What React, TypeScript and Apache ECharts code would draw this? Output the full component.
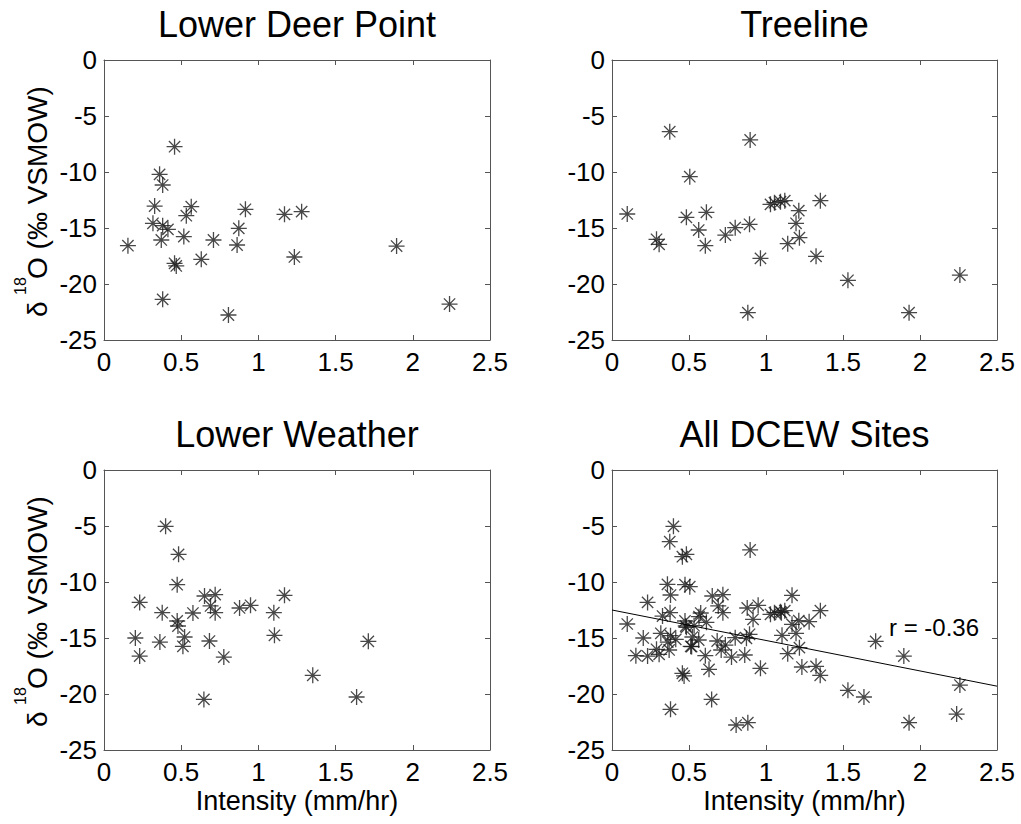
import React, { useEffect, useRef } from "react";
import * as echarts from "echarts";

// ---- Data ----
const panelTitles = ["Lower Deer Point", "Treeline", "Lower Weather", "All DCEW Sites"];

const xTicks = [0, 0.5, 1, 1.5, 2, 2.5];
const yTicks = [-25, -20, -15, -10, -5, 0];

// Lower Deer Point: [intensity mm/hr, d18O permil]
const lowerDeerPoint: [number, number][] = [
  [0.155, -16.58], [0.457, -7.74], [0.36, -10.21], [0.38, -11.16], [0.328, -13.04],
  [0.317, -14.58], [0.38, -14.79], [0.414, -15.12], [0.371, -16.07], [0.565, -13.1],
  [0.533, -13.9], [0.517, -15.77], [0.457, -18.15], [0.468, -18.39], [0.38, -21.37],
  [0.63, -17.8], [0.709, -16.07], [0.806, -22.77], [0.862, -16.52], [0.873, -15.03],
  [0.916, -13.33], [1.169, -13.78], [1.28, -13.54], [1.233, -17.59], [1.895, -16.61],
  [2.238, -21.79],
];

// Treeline
const treeline: [number, number][] = [
  [0.099, -13.75], [0.375, -6.4], [0.897, -7.14], [0.505, -10.42], [0.483, -14.05],
  [0.563, -15.18], [0.613, -13.6], [0.606, -16.58], [0.289, -16.01], [0.306, -16.46],
  [0.736, -15.63], [0.8, -14.97], [0.893, -14.67], [0.964, -17.71], [0.882, -22.56],
  [1.029, -12.89], [1.055, -12.74], [1.094, -12.65], [1.122, -12.56], [1.213, -13.45],
  [1.195, -14.58], [1.217, -15.86], [1.141, -16.4], [1.353, -12.56], [1.325, -17.53],
  [1.532, -19.67], [1.929, -22.56], [2.259, -19.2],
];

// Lower Weather
const lowerWeather: [number, number][] = [
  [0.203, -15.0], [0.231, -11.82], [0.231, -16.61], [0.399, -5.03], [0.483, -7.53],
  [0.474, -10.24], [0.377, -12.74], [0.362, -15.36], [0.474, -13.48], [0.479, -13.93],
  [0.522, -14.91], [0.511, -15.74], [0.576, -12.77], [0.651, -11.25], [0.69, -12.14],
  [0.72, -11.13], [0.72, -12.74], [0.683, -15.27], [0.776, -16.7], [0.647, -20.48],
  [0.878, -12.32], [0.949, -12.08], [1.1, -12.74], [1.104, -14.76], [1.169, -11.19],
  [1.352, -18.33], [1.636, -20.27], [1.712, -15.3],
];

// All DCEW sites = union of the three sites
const allSites: [number, number][] = [...lowerDeerPoint, ...treeline, ...lowerWeather];

// Regression line (endpoints) and its r value
const trendX = [0, 2.5];
const trendY = [-12.5, -19.3];
const rLabel = "r = -0.36";

const xLabel = "Intensity (mm/hr)";
const yLabelParts = ["δ", "18", "O (‰ VSMOW)"];

// ---- Layout / style ----
const FONT = "'Liberation Sans', Arial, Helvetica, sans-serif";
const AXIS_COLOR = "#555";
const grids = [
  { left: 104, top: 60, width: 386, height: 280 },
  { left: 612, top: 60, width: 385, height: 280 },
  { left: 104, top: 470, width: 386, height: 280 },
  { left: 612, top: 470, width: 385, height: 280 },
];
const STAR = "path://M0 -10 L0 10 M-10 0 L10 0 M-7.07 -7.07 L7.07 7.07 M-7.07 7.07 L7.07 -7.07";

export default function App() {
  const ref = useRef<HTMLDivElement>(null);
  useEffect(() => {
    if (!ref.current) return;
    const chart = echarts.init(ref.current, null, { renderer: "svg" });

    const xAxes: any[] = [];
    const yAxes: any[] = [];
    grids.forEach((_, i) => {
      const bottomRow = i >= 2;
      const baseX = {
        type: "value",
        gridIndex: i,
        min: xTicks[0],
        max: xTicks[xTicks.length - 1],
        interval: xTicks[1] - xTicks[0],
        splitLine: { show: false },
        axisLine: { show: true, onZero: false, lineStyle: { color: AXIS_COLOR, width: 1 } },
        axisTick: { show: true, inside: true, length: 5, lineStyle: { color: AXIS_COLOR } },
      };
      xAxes.push({
        ...baseX,
        position: "bottom",
        axisLabel: {
          show: true, fontSize: 26, color: "#000", fontFamily: FONT, margin: 9,
          showMinLabel: true, showMaxLabel: true,
        },
        name: bottomRow ? xLabel : "",
        nameLocation: "middle",
        nameGap: 35,
        nameTextStyle: { fontSize: 27, color: "#000", fontFamily: FONT, lineHeight: 30 },
      });
      xAxes.push({ ...baseX, position: "top", axisLabel: { show: false } });

      const baseY = {
        type: "value",
        gridIndex: i,
        min: yTicks[0],
        max: yTicks[yTicks.length - 1],
        interval: yTicks[1] - yTicks[0],
        splitLine: { show: false },
        axisLine: { show: true, onZero: false, lineStyle: { color: AXIS_COLOR, width: 1 } },
        axisTick: { show: true, inside: true, length: 5, lineStyle: { color: AXIS_COLOR } },
      };
      yAxes.push({
        ...baseY,
        position: "left",
        axisLabel: {
          show: true, fontSize: 26, color: "#000", fontFamily: FONT, margin: 7,
          showMinLabel: true, showMaxLabel: true,
        },
      });
      yAxes.push({ ...baseY, position: "right", axisLabel: { show: false } });
    });

    const sets = [lowerDeerPoint, treeline, lowerWeather, allSites];
    const series: any[] = sets.map((d, i) => ({
      type: "scatter",
      xAxisIndex: 2 * i,
      yAxisIndex: 2 * i,
      data: d,
      symbol: STAR,
      symbolSize: 16,
      symbolKeepAspect: true,
      itemStyle: { color: "rgba(0,0,0,0)", borderColor: "#1a1a1a", borderWidth: 1.3 },
      emphasis: { disabled: true },
      silent: true,
    }));
    series.push({
      type: "line",
      xAxisIndex: 6,
      yAxisIndex: 6,
      data: trendX.map((x, k) => [x, trendY[k]]),
      showSymbol: false,
      symbol: "none",
      lineStyle: { color: "#000", width: 1 },
      silent: true,
    });

    const titleCenters = grids.map((g) => g.left + g.width / 2);
    const graphic: any[] = panelTitles.map((t, i) => ({
      type: "text",
      x: titleCenters[i],
      y: grids[i].top - 36,
      style: {
        text: t, fontSize: 36, fontFamily: FONT, fill: "#000",
        align: "center", verticalAlign: "middle",
      },
    }));
    // y-axis labels for the left column: rotated pieces (delta, superscript 18, rest)
    [0, 2].forEach((i) => {
      const dy = grids[i].top - 60;
      const pieces = [
        { text: yLabelParts[0], size: 28, x: 37, y: 317 },
        { text: yLabelParts[1], size: 16, x: 20, y: 295 },
        { text: yLabelParts[2], size: 28, x: 37, y: 279 },
      ];
      pieces.forEach((p) => {
        graphic.push({
          type: "text",
          x: p.x,
          y: p.y + dy,
          rotation: Math.PI / 2,
          style: {
            text: p.text, fontSize: p.size, fontFamily: FONT, fill: "#000",
            align: "left", verticalAlign: "middle",
          },
        });
      });
    });
    graphic.push({
      type: "text",
      x: 889,
      y: 627,
      style: { text: rLabel, fontSize: 24, fontFamily: FONT, fill: "#000", align: "left", verticalAlign: "middle" },
    });

    chart.setOption({
      animation: false,
      backgroundColor: "#fff",
      grid: grids.map((g) => ({ ...g, containLabel: false })),
      xAxis: xAxes,
      yAxis: yAxes,
      series,
      graphic,
    });
    return () => chart.dispose();
  }, []);

  return (
    <div
      ref={ref}
      style={{ position: "fixed", left: 0, top: 0, width: 1021, height: 824, background: "#fff" }}
    />
  );
}
